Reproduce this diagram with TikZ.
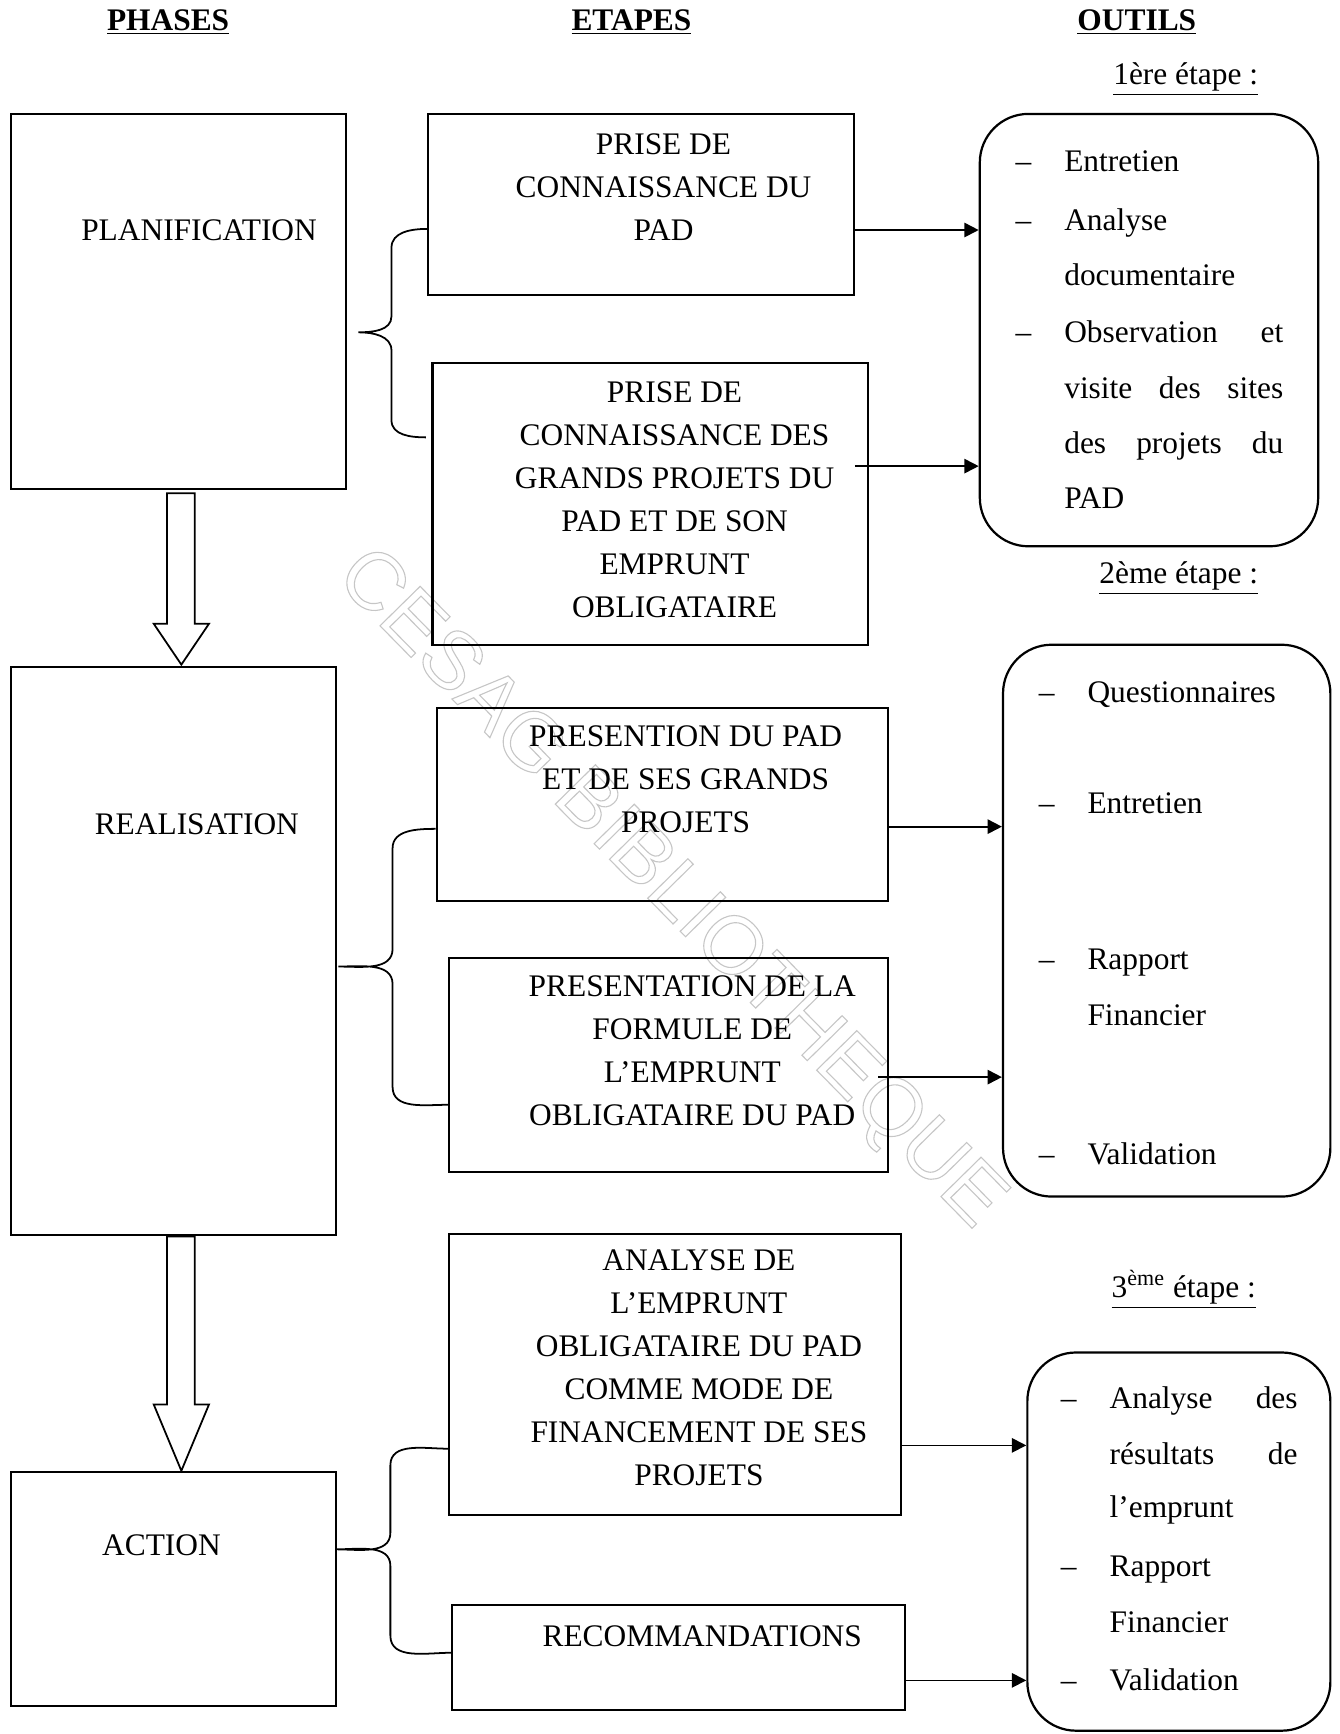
\documentclass[tikz,border=0pt]{standalone}
\usepackage{fontspec}
\setmainfont{Liberation Serif}
\newfontfamily\wmfont{Liberation Sans}
\usetikzlibrary{arrows.meta,fit,calc}

\tikzset{
  box/.style={draw, line width=1pt, inner sep=0pt},
  outilbox/.style={draw, line width=1pt, rounded corners=22pt, inner sep=0pt},
  txt/.style={align=center, inner sep=0pt, font=\fontsize{14.2}{19.4}\selectfont},
  item/.style={anchor=base west, inner sep=0pt, font=\fontsize{14.2}{17}\selectfont},
  head/.style={inner sep=0pt, font=\fontsize{14.2}{17}\selectfont\bfseries},
  stepnote/.style={anchor=east, inner sep=0pt, font=\fontsize{14.2}{17}\selectfont},
  arr/.style={line width=0.8pt, -{Triangle[length=6.5pt,width=6.5pt]}},
  brace/.style={line width=0.8pt},
  bigarrow/.style={line width=0.8pt, line join=miter},
  wm/.style={rotate=-45.5, text=gray!45, inner sep=0pt, font=\wmfont\fontsize{37}{37}\selectfont},
}

\begin{document}
\begin{tikzpicture}[x=0.5pt,y=-0.5pt]
\useasboundingbox (0,0) rectangle (1211,1568);

\node[wm] (wm) at (605,805) {\special{pdf:literal direct 1 Tr 0.5 w}CESAG BIBLIOTHEQUE\special{pdf:literal direct 0 Tr}};

% titres
\node[head] (hph) at (152,20) {\underline{PHASES}};
\node[head] (het) at (571,20) {\underline{ETAPES}};
\node[head] (hou) at (1028,20) {\underline{OUTILS}};
\node[stepnote] (s1) at (1138,72) {\underline{1ère étape :}};
\node[stepnote] (s2) at (1138,523) {\underline{2ème étape :}};
\node[stepnote] (s3) at (1136,1166) {\underline{3\textsuperscript{ème} étape :}};

% phases
\node[box, fit={(10,103) (313,442)}] (P1) {};
\node[txt] (P1t) at (180,208) {PLANIFICATION};
\node[box, fit={(10,603) (304,1117)}] (P2) {};
\node[txt] (P2t) at (178,745) {REALISATION};
\node[box, fit={(10,1331) (304,1543)}] (P3) {};
\node[txt] (P3t) at (146,1397) {ACTION};

\draw[bigarrow] (151,446) -- (151,564) -- (139,564) -- (164,601) -- (189,564) -- (176,564) -- (176,446) -- cycle;
\draw[bigarrow] (151,1118) -- (151,1270) -- (139,1270) -- (164,1330) -- (189,1270) -- (176,1270) -- (176,1118) -- cycle;

% etapes
\node[box, fit={(387,103) (772,267)}] (E1) {};
\node[txt] (E1t) at (600,169) {PRISE DE\\CONNAISSANCE DU\\PAD};
\node[box, fit={(391,328) (785,583)}] (E2) {};
\node[txt] (E2t) at (610,452) {PRISE DE\\CONNAISSANCE DES\\GRANDS PROJETS DU\\PAD ET DE SON\\EMPRUNT\\OBLIGATAIRE};
\node[box, fit={(395,640) (803,815)}] (E3) {};
\node[txt] (E3t) at (620,705) {PRESENTION DU PAD\\ET DE SES GRANDS\\PROJETS};
\node[box, fit={(406,866) (803,1060)}] (E4) {};
\node[txt] (E4t) at (626,950) {PRESENTATION DE LA\\FORMULE DE\\L’EMPRUNT\\OBLIGATAIRE DU PAD};
\node[box, fit={(406,1116) (815,1370)}] (E5) {};
\node[txt] (E5t) at (632,1237) {ANALYSE DE\\L’EMPRUNT\\OBLIGATAIRE DU PAD\\COMME MODE DE\\FINANCEMENT DE SES\\PROJETS};
\node[box, fit={(409,1451) (818,1546)}] (E6) {};
\node[txt] (E6t) at (635,1480) {RECOMMANDATIONS};

% outils
\node[outilbox, fit={(886,103) (1192,494)}] (O1) {};
\node[item] (o1a) at (918,155) {\makebox[22pt][l]{–}Entretien};
\node[item] (o1b) at (918,208) {\makebox[22pt][l]{–}Analyse};
\node[item] (o1c) at (962,258) {documentaire};
\node[item] (o1d) at (918,310) {\makebox[22pt][l]{–}\makebox[99pt][s]{Observation et}};
\node[item] (o1e) at (962,360) {\makebox[99pt][s]{visite des sites}};
\node[item] (o1f) at (962,410) {\makebox[99pt][s]{des projets du}};
\node[item] (o1g) at (962,460) {PAD};

\node[outilbox, fit={(907,583) (1203,1082)}] (O2) {};
\node[item] (o2a) at (939,635) {\makebox[22pt][l]{–}Questionnaires};
\node[item] (o2b) at (939,736) {\makebox[22pt][l]{–}Entretien};
\node[item] (o2c) at (939,877) {\makebox[22pt][l]{–}Rapport};
\node[item] (o2d) at (983,927) {Financier};
\node[item] (o2e) at (939,1053) {\makebox[22pt][l]{–}Validation};

\node[outilbox, fit={(929,1223) (1203,1565)}] (O3) {};
\node[item] (o3a) at (959,1274) {\makebox[22pt][l]{–}\makebox[85pt][s]{Analyse des}};
\node[item] (o3b) at (1003,1324) {\makebox[85pt][s]{résultats de}};
\node[item] (o3c) at (1003,1372) {l’emprunt};
\node[item] (o3d) at (959,1426) {\makebox[22pt][l]{–}Rapport};
\node[item] (o3e) at (1003,1476) {Financier};
\node[item] (o3f) at (959,1529) {\makebox[22pt][l]{–}Validation};

% fleches
\draw[arr] ($(E1.east)+(0,23)$) coordinate (a1) -- (a1 -| O1.west);
\draw[arr] ($(E2.east)+(-13,-34)$) coordinate (a2) -- (a2 -| O1.west);
\draw[arr] ($(E3.east)+(0,20)$) coordinate (a3) -- (a3 -| O2.west);
\draw[arr] ($(E4.east)+(-10,11)$) coordinate (a4) -- (a4 -| O2.west);
\draw[arr] ($(E5.east)+(0,64)$) coordinate (a5) -- (a5 -| O3.west);
\draw[arr] ($(E6.east)+(0,21)$) coordinate (a6) -- (a6 -| O3.west);

% accolades
\coordinate (b1) at ($(P1.east)+(10,28)$);
\draw[brace] ($(E1.west)+(0,22)$) to[out=180,in=90] (354,224) -- (354,286) to[out=-90,in=0] (b1)
  to[out=0,in=90] (354,317) -- (354,380) to[out=-90,in=180] ($(E2.west)+(-5,-60)$);
\coordinate (b2) at ($(P2.east)+(1,14)$);
\draw[brace] ($(E3.west)+(0,22)$) to[out=180,in=90] (355,767) -- (355,858) to[out=-90,in=0] (b2)
  to[out=0,in=90] (355,890) -- (355,983) to[out=-90,in=180] ($(E4.west)+(0,36)$);
\coordinate (b3) at ($(P3.east)+(-1,-36)$);
\draw[brace] ($(E5.west)+(0,67)$) to[out=180,in=90] (353,1325) -- (353,1386) to[out=-90,in=0] (b3)
  to[out=0,in=90] (353,1416) -- (353,1479) to[out=-90,in=180] ($(E6.west)+(0,-4)$);
\end{tikzpicture}
\end{document}
